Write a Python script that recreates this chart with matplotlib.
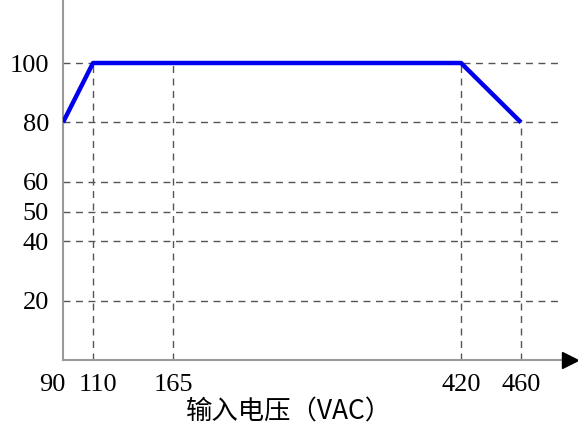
import numpy as np
import matplotlib.pyplot as plt
from matplotlib import transforms

plt.rcParams['font.family'] = ['Liberation Serif', 'Noto Sans CJK SC', 'DejaVu Sans']

# input voltage (VAC) and output load (%)
voltage = [90, 110, 420, 460]
load = [80, 100, 100, 80]
x_ticks = [90, 110, 165, 420, 460]
y_ticks = [20, 40, 50, 60, 80, 100]
x_label = '输入电压（VAC）'

# the axis is drawn schematic: piecewise linear scale
brk_v = np.array([0, 90, 110, 165, 420, 460, 1000])
brk_p = np.array([63 - 90 * 1.5, 63, 93, 173, 461, 521, 521 + 540 * 1.5])


def fwd(v):
    return np.interp(v, brk_v, brk_p)


def inv(p):
    return np.interp(p, brk_p, brk_v)


fig = plt.figure(figsize=(5.78, 4.41), dpi=100)
ax = fig.add_axes([63 / 578, (441 - 360) / 441, (578 - 63) / 578, 360 / 441])
ax.set_xscale('function', functions=(fwd, inv))
ax.set_xlim(90, inv(578))
ax.set_ylim(0, 360 / 2.97)

grid = dict(color='#555555', lw=1.0, ls=(0, (5, 4)), zorder=1)
for y in y_ticks:
    ax.plot([90, inv(560)], [y, y], **grid)
# vertical guides up to the curve
for x in x_ticks[1:]:
    ax.plot([x, x], [0, np.interp(x, voltage, load)], **grid)

ax.plot(voltage, load, color='#0000ee', lw=3.2, solid_capstyle='butt', zorder=3)

for s in ['top', 'right']:
    ax.spines[s].set_visible(False)
ax.spines['left'].set_color('#999999')
ax.spines['bottom'].set_color('#999999')
ax.spines['left'].set_linewidth(1.5)
ax.spines['bottom'].set_linewidth(1.5)
ax.spines['bottom'].set_bounds(90, inv(565))
ax.plot([inv(570)], [0], marker='>', color='black', markersize=12, clip_on=False, zorder=5)

ax.set_yticks(y_ticks)
ax.set_yticklabels([str(v) for v in y_ticks], fontsize=19)
ax.set_xticks(x_ticks)
ax.set_xticklabels([str(v) for v in x_ticks], fontsize=19)
ax.tick_params(length=0, pad=10)
ax.tick_params(axis='y', pad=10)
lbls = ax.get_xticklabels()
lbls[0].set_transform(lbls[0].get_transform() + transforms.ScaledTranslation(-11 / 100, 0, fig.dpi_scale_trans))
lbls[1].set_transform(lbls[1].get_transform() + transforms.ScaledTranslation(5 / 100, 0, fig.dpi_scale_trans))

fig.text(289 / 578, 1 - 412 / 441, x_label, fontsize=19, ha='center', va='center',
         family=['Noto Sans CJK SC', 'DejaVu Sans'])

fig.savefig('out.png', dpi=100)
